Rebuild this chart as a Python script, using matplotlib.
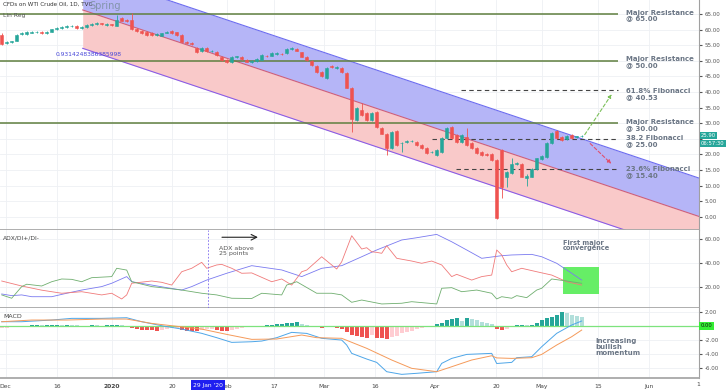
import numpy as np
import matplotlib.pyplot as plt
from matplotlib.patches import Rectangle

W, H = 728, 391

# daily candles, bar 0 = 29 Nov 2019 ... bar 116 = 13 May 2020
opens = [58.3, 55.6, 55.9, 56.4, 58.5, 58.6, 59.0, 59.1, 59.2, 58.9,
         59.3, 60.1, 60.4, 60.8, 61.1, 61.2, 60.5, 60.7, 61.4, 61.8,
         62.0, 61.6, 61.7, 61.2, 63.6, 63.1, 63.1, 60.1, 59.6, 59.3,
         58.8, 58.4, 58.0, 59.0, 59.5, 59.1, 58.3, 56.1, 55.8, 54.2,
         53.0, 54.0, 53.1, 52.8, 51.1, 50.4, 49.6, 51.3, 51.2, 50.4,
         49.6, 49.8, 50.3, 51.6, 51.6, 52.3, 52.3, 52.4, 53.8, 53.8,
         52.7, 51.3, 49.9, 48.4, 46.5, 44.4, 48.3, 47.8, 47.7, 46.0,
         41.4, 31.0, 34.2, 33.2, 31.0, 33.5, 28.4, 26.7, 22.0, 27.6,
         23.5, 24.0, 24.2, 24.1, 23.0, 22.0, 20.8, 19.8, 20.9, 25.2,
         28.9, 26.2, 24.1, 25.7, 23.6, 22.0, 20.9, 20.2, 20.1, 18.2,
         21.4, 12.9, 13.9, 17.0, 16.9, 12.3, 12.9, 15.2, 18.4, 19.3,
         23.6, 27.6, 25.7, 24.8, 26.2, 25.6, 25.8]
highs = [58.8, 56.3, 56.5, 58.6, 59.1, 59.6, 59.4, 59.5, 59.4, 59.5,
         60.3, 60.7, 61.0, 61.5, 61.6, 61.4, 61.0, 61.7, 62.0, 62.3,
         62.2, 62.1, 61.9, 64.7, 64.0, 63.4, 65.4, 60.5, 59.9, 59.6,
         59.1, 58.8, 59.0, 59.4, 59.8, 59.3, 58.6, 56.4, 56.0, 54.5,
         54.3, 54.3, 53.5, 53.1, 51.4, 50.7, 51.4, 51.7, 51.5, 50.6,
         50.1, 50.8, 52.2, 51.9, 52.7, 52.7, 52.6, 54.0, 54.4, 54.1,
         52.9, 51.5, 50.1, 48.6, 46.8, 47.9, 48.6, 48.3, 48.0, 46.3,
         41.6, 35.2, 36.4, 33.5, 33.5, 33.8, 28.7, 27.0, 27.6, 27.9,
         24.0, 24.5, 24.7, 24.4, 23.3, 22.3, 21.2, 21.7, 25.5, 28.7,
         29.2, 26.5, 26.5, 28.4, 23.9, 22.3, 21.2, 20.5, 20.4, 18.5,
         21.8, 14.8, 18.7, 17.5, 17.2, 13.6, 15.5, 19.0, 19.8, 23.9,
         27.3, 27.9, 26.0, 26.2, 26.5, 26.0, 26.1]
lows = [55.2, 55.3, 55.7, 56.2, 58.3, 58.4, 58.8, 58.9, 58.7, 58.7,
        59.1, 59.9, 60.2, 60.6, 60.9, 60.2, 60.3, 60.5, 61.2, 61.6,
        61.5, 61.3, 61.1, 61.0, 62.6, 62.3, 59.9, 59.1, 58.7, 58.0,
        58.0, 58.1, 57.8, 58.8, 58.6, 58.0, 55.9, 55.3, 55.0, 52.4,
        52.7, 52.8, 52.9, 51.5, 49.9, 49.3, 49.4, 51.0, 50.3, 49.5,
        49.4, 49.6, 50.1, 51.2, 51.4, 52.0, 52.0, 52.2, 53.5, 53.1,
        51.1, 50.0, 48.4, 46.1, 44.9, 44.1, 47.6, 47.5, 46.1, 41.2,
        27.3, 30.7, 32.3, 30.7, 30.7, 28.6, 26.4, 19.8, 21.7, 22.7,
        20.9, 23.6, 24.0, 22.8, 21.7, 20.1, 20.4, 19.5, 20.6, 24.9,
        24.9, 23.8, 23.8, 22.7, 21.7, 20.1, 19.5, 19.5, 17.9, -0.8,
        6.0, 9.7, 13.6, 16.6, 12.6, 10.0, 12.6, 14.9, 18.1, 19.0,
        23.3, 24.9, 24.3, 24.5, 24.9, 25.3, 25.5]
closes = [55.5, 56.0, 56.2, 58.3, 58.8, 59.3, 59.1, 59.2, 58.9, 59.3,
          60.1, 60.4, 60.7, 61.2, 61.3, 60.4, 60.7, 61.4, 61.7, 62.0,
          61.8, 61.8, 61.4, 63.1, 62.9, 62.6, 60.1, 59.4, 59.0, 58.3,
          58.3, 58.5, 58.8, 59.1, 58.8, 58.3, 56.1, 55.6, 55.3, 52.7,
          54.0, 53.0, 53.2, 51.8, 50.2, 49.6, 51.1, 51.4, 50.5, 49.7,
          49.8, 50.5, 51.9, 51.5, 52.4, 52.4, 52.2, 53.7, 54.0, 53.3,
          51.3, 50.2, 48.6, 46.3, 45.1, 47.6, 47.9, 48.0, 46.3, 41.4,
          31.2, 34.9, 32.6, 31.0, 33.2, 28.9, 26.7, 22.0, 27.3, 23.0,
          23.7, 24.2, 24.4, 23.0, 22.0, 20.4, 20.9, 21.4, 25.2, 28.4,
          25.2, 24.1, 26.2, 23.0, 22.0, 20.4, 19.8, 19.8, 18.2, -0.5,
          9.7, 14.5, 16.9, 17.1, 12.9, 13.2, 15.2, 18.7, 19.5, 23.6,
          27.0, 25.2, 24.6, 25.9, 25.2, 25.8, 25.9]

# linear regression channel (TradingView Lin Reg)
ch_start = 16.2
ch_mid0 = 66.3
ch_slope = -0.537
ch_half = 12.3
pearson = "0.9314248386385998"

resistance = [65.00, 50.00, 30.00]
fib = [40.53, 25.00, 15.40]

# ADX / DI+ / DI-  (bar, value)
adx_x = [0, 2, 4, 6, 10, 13, 16, 20, 22, 25, 26, 30, 33, 36, 38, 41, 45, 50, 56, 60,
         64, 68, 72, 75, 80, 83, 87, 90, 93, 96, 100, 102, 106, 108, 111, 114, 116]
adx_y = [13.8, 12.4, 13.0, 11.5, 11.5, 14.4, 17.1, 20.0, 22.8, 28.4, 24.1, 21.3, 19.1, 17.1, 20.0,
         25.5, 31.2, 37.6, 34.0, 28.4, 35.4, 37.6, 45.1, 50.8, 59.2, 61.1, 63.9, 57.7, 50.8, 43.8,
         46.0, 46.6, 47.1, 45.1, 39.6, 31.2, 25.5]
dim_x = [0, 4, 8, 12, 16, 20, 22, 24, 25, 26, 30, 32, 34, 36, 38, 40, 41, 43, 44, 46, 48, 50,
         54, 56, 58, 60, 61, 64, 66, 67, 68, 70, 72, 73, 74, 75, 76, 77, 79, 82, 84, 86, 88, 90,
         91, 94, 96, 98, 99, 100, 101, 102, 104, 107, 110, 113, 116]
dim_y = [24.7, 20.5, 17.0, 14.4, 15.7, 13.0, 14.4, 9.6, 13.0, 22.8, 24.7, 23.6, 21.3, 32.5, 35.4,
         40.4, 35.4, 38.2, 38.7, 35.4, 31.2, 31.5, 24.1, 26.4, 21.3, 32.5, 33.9, 45.1, 38.2, 34.8,
         40.9, 62.8, 51.6, 52.7, 49.3, 48.8, 48.0, 54.4, 43.8, 41.5, 39.6, 41.5, 38.2, 28.4, 30.3,
         25.5, 28.4, 29.7, 50.8, 46.6, 38.2, 32.5, 35.4, 32.5, 29.7, 24.1, 21.3]
dip_x = [0, 2, 4, 5, 8, 10, 12, 14, 16, 18, 22, 23, 25, 26, 30, 33, 36, 40, 43, 46, 50, 52,
         56, 57, 59, 63, 66, 68, 70, 72, 76, 80, 82, 87, 88, 90, 92, 95, 98, 99, 100, 102, 103,
         105, 107, 108, 110, 113, 116]
dip_y = [13.0, 10.2, 20.0, 22.0, 20.5, 24.1, 26.4, 26.1, 24.1, 27.5, 28.4, 35.4, 33.9, 24.1, 20.0,
         18.6, 17.1, 14.4, 13.0, 10.2, 10.0, 14.4, 13.0, 21.3, 24.1, 14.4, 14.4, 13.0, 6.8, 8.7,
         5.4, 6.0, 7.3, 5.4, 18.6, 19.1, 15.7, 17.1, 14.4, 9.6, 11.5, 10.2, 12.4, 10.7, 17.1, 18.6,
         26.4, 24.7, 22.8]

# MACD
macd_x = [0, 4, 10, 14, 20, 25, 28, 32, 36, 40, 43, 46, 50, 52, 55, 58, 61, 64, 68, 69, 70,
          73, 75, 77, 80, 83, 87, 88, 90, 93, 98, 99, 102, 103, 106, 108, 111, 114, 116]
macd_y = [0.57, 0.57, 0.81, 1.05, 1.05, 1.14, 0.57, 0.0, -0.48, -1.09, -1.71, -2.38, -2.29, -2.19,
          -1.71, -0.95, -1.10, -1.80, -2.05, -2.76, -3.95, -4.76, -5.24, -6.57, -6.95, -6.80,
          -6.57, -5.38, -4.67, -4.10, -3.95, -5.40, -5.24, -4.57, -4.43, -3.00, -1.09, 0.10, 0.67]
sig_x = [0, 6, 13, 20, 25, 30, 34, 40, 45, 50, 55, 60, 63, 68, 73, 78, 82, 87, 90, 94, 98, 99,
         102, 106, 108, 111, 114, 116]
sig_y = [0.57, 0.81, 0.81, 0.95, 0.95, 0.33, 0.0, -0.48, -1.24, -1.95, -1.90, -1.33, -1.71, -1.80,
         -3.23, -4.90, -6.09, -6.57, -5.86, -4.90, -4.29, -4.60, -4.67, -4.57, -4.10, -2.76,
         -1.57, -0.62]
hist = [-0.30, -0.30, -0.25, -0.05, 0.00, 0.03, 0.10, 0.12, 0.10, 0.12,
        0.15, 0.15, 0.12, 0.15, 0.12, 0.05, 0.03, 0.03, 0.08, 0.05,
        0.02, 0.05, 0.10, 0.12, 0.08, 0.03, -0.30, -0.45, -0.55, -0.60,
        -0.65, -0.70, -0.55, -0.45, -0.35, -0.30, -0.55, -0.70, -0.75, -0.80,
        -0.60, -0.50, -0.45, -0.65, -0.75, -0.80, -0.55, -0.45, -0.35, -0.25,
        -0.15, -0.10, -0.05, 0.05, 0.12, 0.20, 0.28, 0.35, 0.45, 0.50,
        0.30, 0.12, -0.10, -0.20, -0.30, -0.15, -0.08, -0.30, -0.50, -0.90,
        -1.30, -1.50, -1.60, -1.70, -1.30, -1.70, -1.80, -1.90, -1.60, -1.40,
        -1.10, -0.90, -0.70, -0.50, -0.35, -0.20, -0.05, 0.20, 0.40, 0.75,
        1.00, 1.10, 0.70, 1.10, 0.90, 0.75, 0.60, 0.45, 0.30, -0.50,
        -0.55, -0.40, -0.20, 0.05, 0.10, 0.05, 0.15, 0.45, 0.80, 1.05,
        1.30, 1.60, 1.90, 1.75, 1.60, 1.45, 1.30]

tick_pos = [0.8, 11.1, 22.1, 34.1, 45, 54.5, 64.5, 74.7, 86.7, 98.9, 108, 119.3, 129.5]
tick_lab = ['Dec', '16', '2020', '20', 'Feb', '17', 'Mar', '16', 'Apr', '20', 'May', '15', 'Jun']

UP, DN = '#26a69a', '#ef5350'
TXT = '#6b7685'
GRID = '#eef0f4'

fig = plt.figure(figsize=(W / 100, H / 100), dpi=100)
right = 699 / W
ax = fig.add_axes([0, 1 - 230 / H, right, 230 / H])
ax2 = fig.add_axes([0, 1 - 308 / H, right, 78 / H], sharex=ax)
ax3 = fig.add_axes([0, 1 - 378 / H, right, 70 / H], sharex=ax)

xmin, xmax = -0.34, 139.46
for a in (ax, ax2, ax3):
    a.set_xlim(xmin, xmax)
    a.yaxis.tick_right()
    a.tick_params(axis='y', labelsize=4, colors='#555555', length=2, pad=2)
    a.tick_params(axis='x', length=0)
    for s in ('left', 'top'):
        a.spines[s].set_visible(False)
    a.spines['right'].set_color('#a0a0a0')
    a.spines['bottom'].set_color('#a8a8a8')
    a.spines['bottom'].set_linewidth(1.3)
    a.set_xticks(tick_pos)
    a.grid(True, color=GRID, lw=0.6)
    a.set_axisbelow(True)
plt.setp(ax.get_xticklabels(), visible=False)
plt.setp(ax2.get_xticklabels(), visible=False)

# ---- price panel
ax.set_ylim(-4.23, 69.49)
ax.set_yticks(np.arange(0, 66, 5))
# 25.00 sits under the last-price tag
ax.set_yticklabels(['' if v == 25 else f'{v:.2f}' for v in np.arange(0, 66, 5)])

cx = np.array([ch_start, xmax])
mid = ch_mid0 + ch_slope * (cx - ch_start)
ax.fill_between(cx, mid, mid + ch_half, color='#b5b5f7', lw=0, zorder=1)
ax.fill_between(cx, mid - ch_half, mid, color='#f9c9c9', lw=0, zorder=1)
ax.plot(cx, mid + ch_half, color='#6c6cf0', lw=0.8, zorder=2)
ax.plot(cx, mid, color='#d0607a', lw=0.8, zorder=2)
ax.plot(cx, mid - ch_half, color='#8a5ce6', lw=0.8, zorder=2)

ax.hlines(resistance, xmin, 123.3, color='#5f7f3f', lw=1.1, zorder=3)
ax.hlines(fib, [91.9, 86.0, 90.9], 123.3, color='#444444', lw=0.8,
          linestyles=(0, (4, 3)), zorder=3)

x = np.arange(len(opens))
o = np.array(opens); c = np.array(closes)
col = np.where(c >= o, UP, DN)
ax.vlines(x, lows, highs, colors=col, lw=0.6, zorder=4)
ax.bar(x, c - o, bottom=o, width=0.7, color=col, edgecolor=col, lw=0.4, zorder=5)

# projections
ax.annotate('', xy=(122.3, 40.0), xytext=(116.3, 25.6),
            arrowprops=dict(arrowstyle='-|>', color='#7cc05a', lw=0.8, ls=(0, (3, 2)),
                            mutation_scale=5), zorder=6)
ax.annotate('', xy=(122.3, 16.4), xytext=(117.3, 24.1),
            arrowprops=dict(arrowstyle='-|>', color='#e0506e', lw=0.8, ls=(0, (3, 2)),
                            mutation_scale=5), zorder=6)

def ftext(px, py, s, **kw):
    fig.text(px / W, 1 - py / H, s, **kw)

ftext(3, 4, 'CFDs on WTI Crude Oil, 1D, TVC', fontsize=4.1, color='#333333', va='center')
ftext(3, 15, 'Lin Reg', fontsize=4.3, color='#555555', va='center')
ftext(89, 6, 'Spring', fontsize=7, color='#8394ab', va='center')
ftext(56, 54, pearson, fontsize=4.3, color='#4646d8', va='center')

notes = [(15.5, 'Major Resistance\n@ 65.00'), (62, 'Major Resistance\n@ 50.00'),
         (94, '61.8% Fibonacci\n@ 40.53'), (125, 'Major Resistance\n@ 30.00'),
         (141, '38.2 Fibonacci\n@ 25.00'), (172, '23.6% Fibonacci\n@ 15.40')]
for py, s in notes:
    ftext(626, py, s, fontsize=5, color=TXT, fontweight='bold', va='center', linespacing=0.95)

ftext(701, 135.5, '25.90', fontsize=3.8, color='white', va='center',
      bbox=dict(boxstyle='square,pad=0.25', fc=UP, ec='none'))
ftext(701, 143.5, '06:57:30', fontsize=3.8, color='white', va='center',
      bbox=dict(boxstyle='square,pad=0.25', fc=UP, ec='none'))

# ---- ADX panel
ax2.set_ylim(2.0, 67.6)
ax2.set_yticks([20, 40, 60])
ax2.set_yticklabels(['20.00', '40.00', '60.00'])
ax2.add_patch(Rectangle((112.3, 14.0), 7.1, 22.4, color='#66ee66', lw=0, zorder=2))
ax2.plot(adx_x, adx_y, color='#7a7af0', lw=0.6, zorder=3)
ax2.plot(dim_x, dim_y, color='#f07a7a', lw=0.6, zorder=3)
ax2.plot(dip_x, dip_y, color='#6fae6f', lw=0.6, zorder=3)
ax2.axvline(41.3, color='#7b68ee', lw=0.6, ls=(0, (2, 2)), zorder=3)
ax2.annotate('', xy=(51.8, 61.5), xytext=(43.5, 61.5),
             arrowprops=dict(arrowstyle='->', color='#222222', lw=0.8), zorder=4)
ftext(3, 238, 'ADX/DI+/DI-', fontsize=4.3, color='#444444', va='center')
ftext(219, 251, 'ADX above\n25 points', fontsize=4.5, color='#555555', va='center',
      linespacing=0.95)
ftext(563, 245.5, 'First major\nconvergence', fontsize=4.8, color=TXT, fontweight='bold',
      va='center', linespacing=0.95)

# ---- MACD panel
ax3.set_ylim(-7.47, 2.53)
ax3.set_yticks([-6, -4, -2, 0, 2])
ax3.set_yticklabels(['-6.00', '-4.00', '-2.00', '', '2.00'])
hcol = []
for i, v in enumerate(hist):
    prev = hist[i - 1] if i > 0 else v
    if v >= 0:
        hcol.append('#26a69a' if v >= prev else '#b2dfdb')
    else:
        hcol.append('#ffcdd2' if v >= prev else '#ef5350')
ax3.bar(x, hist, width=0.8, color=hcol, zorder=2)
ax3.axhline(0, color='#7de37d', lw=0.9, zorder=3)
ax3.plot(macd_x, macd_y, color='#4ea6e8', lw=0.7, zorder=4)
ax3.plot(sig_x, sig_y, color='#f59a5a', lw=0.7, zorder=4)
ftext(3, 316, 'MACD', fontsize=4.5, color='#444444', va='center')
ftext(595, 347, 'Increasing\nbullish\nmomentum', fontsize=5, color=TXT, fontweight='bold',
      va='center', linespacing=0.95)
ax3.set_xticklabels(tick_lab)
ax3.tick_params(axis='x', labelsize=4.3, colors='#444444', pad=4)
for lab in ax3.get_xticklabels():
    if lab.get_text() == '2020':
        lab.set_fontweight('bold')
ftext(698, 385, '1', fontsize=4.3, color='#444444', va='center', ha='center')
ftext(701, 325.7, '0.00', fontsize=3.8, color='#111111', va='center',
      bbox=dict(boxstyle='square,pad=0.3', fc='#33ee33', ec='none'))
ftext(208, 385, "29 Jan '20", fontsize=4.3, color='white', va='center', ha='center',
      bbox=dict(boxstyle='square,pad=0.35', fc='#1f1ff0', ec='none'))

fig.savefig('out.png', dpi=100)
